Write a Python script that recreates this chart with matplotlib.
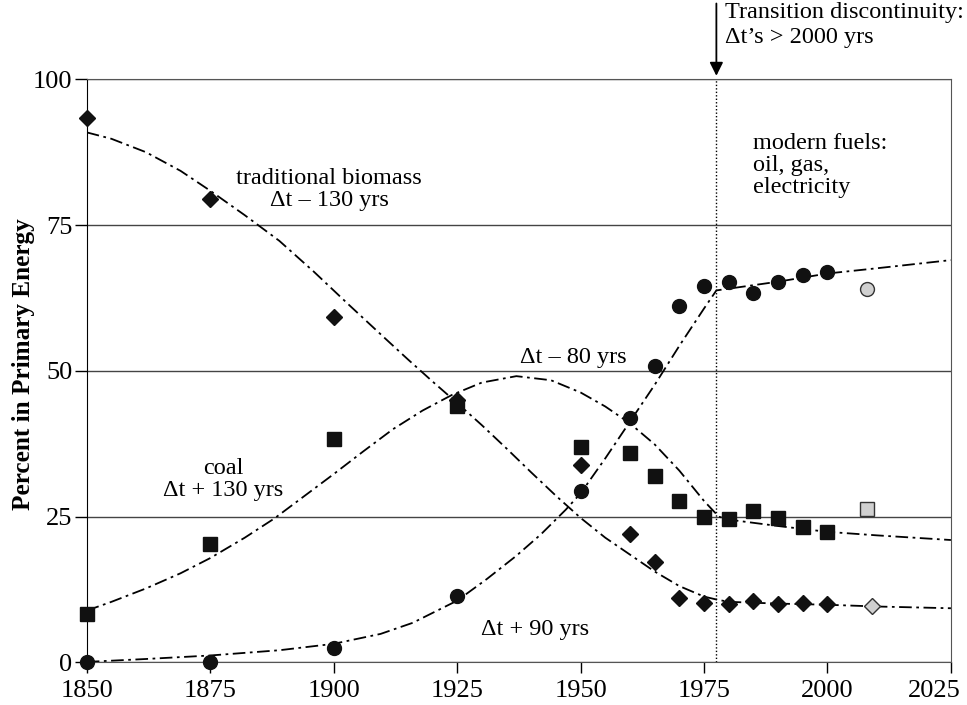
import matplotlib
matplotlib.use("Agg")
import matplotlib.pyplot as plt
import matplotlib.transforms as mtransforms

plt.rcParams['font.family'] = ['Liberation Serif', 'DejaVu Serif']

# observed shares (percent of primary energy)
years = [1850, 1875, 1900, 1925, 1950, 1960, 1965, 1970, 1975, 1980, 1985, 1990, 1995, 2000]
biomass = [93.4, 79.5, 59.3, 45.0, 33.8, 22.0, 17.2, 11.0, 10.2, 10.1, 10.6, 10.1, 10.2, 10.0]
coal = [8.4, 20.3, 38.3, 44.0, 37.0, 36.0, 32.0, 27.7, 25.0, 24.6, 26.0, 24.7, 23.2, 22.4]
modern = [0.0, 0.0, 2.4, 11.4, 29.4, 41.9, 50.8, 61.1, 64.6, 65.3, 63.3, 65.3, 66.4, 66.9]

# latest values (grey markers)
gray_years = [2008, 2008, 2009]
gray_vals = [64.1, 26.4, 9.7]   # modern, coal, biomass

# fitted curves
biomass_fit_yrs = [1850, 1855, 1862, 1869, 1875, 1882, 1889, 1896, 1903, 1910, 1915, 1920,
                   1925, 1930, 1935, 1940, 1945, 1950, 1955, 1960, 1965, 1970, 1975, 1977.5,
                   1980, 1990, 2000, 2010, 2025]
biomass_fit = [90.9, 89.8, 87.5, 84.3, 80.9, 76.7, 72.3, 67.0, 61.4, 55.9, 52.0, 48.2,
               44.5, 40.7, 36.7, 32.6, 28.6, 24.8, 21.4, 18.5, 15.6, 13.1, 11.3, 10.8,
               10.4, 10.1, 9.9, 9.6, 9.3]
coal_fit_yrs = [1850, 1855, 1862, 1869, 1875, 1882, 1888, 1894, 1900, 1906, 1912, 1918,
                1924, 1930, 1937, 1944, 1950, 1955, 1960, 1965, 1970, 1975, 1978,
                1980, 1990, 2000, 2010, 2025]
coal_fit = [8.9, 10.4, 12.7, 15.3, 17.9, 21.4, 24.7, 28.5, 32.3, 36.2, 40.0, 43.2,
            45.9, 48.0, 49.1, 48.4, 46.3, 43.9, 41.0, 37.4, 32.9, 27.7, 25.0,
            24.5, 23.4, 22.4, 21.8, 21.0]
modern_fit_yrs = [1850, 1862, 1875, 1889, 1900, 1909.5, 1916, 1925, 1931, 1937, 1942,
                  1947, 1950, 1955, 1960, 1965, 1970, 1975, 1977.5, 1990, 2000, 2010, 2025]
modern_fit = [0.1, 0.6, 1.2, 2.1, 3.2, 4.9, 6.8, 10.6, 14.3, 18.3, 22.0,
              26.2, 29.0, 35.0, 41.3, 47.6, 54.3, 60.7, 63.8, 65.3, 66.7, 67.6, 69.0]

transition_year = 1977.5

fig = plt.figure(figsize=(9.67, 7.05), dpi=100)
ax = fig.add_axes([0.0897, 0.0603, 0.8937, 0.8272])

dashdot = (0, (7, 2.5, 1.5, 2.5))
ax.plot(biomass_fit_yrs, biomass_fit, color='black', lw=1.3, ls=dashdot)
ax.plot(coal_fit_yrs, coal_fit, color='black', lw=1.3, ls=dashdot)
ax.plot(modern_fit_yrs, modern_fit, color='black', lw=1.3, ls=dashdot)

ax.plot(years, coal, 's', color='#111111', ms=9.5, clip_on=False, zorder=3)
ax.plot(years, biomass, 'D', color='#111111', ms=8.5, clip_on=False, zorder=4)
ax.plot(years, modern, 'o', color='#111111', ms=10, clip_on=False, zorder=3)

ax.plot(gray_years[0], gray_vals[0], 'o', ms=10, mfc='#d0d0d0', mec='#333333', mew=1)
ax.plot(gray_years[1], gray_vals[1], 's', ms=9.5, mfc='#d0d0d0', mec='#333333', mew=1)
ax.plot(gray_years[2], gray_vals[2], 'D', ms=8.5, mfc='#d0d0d0', mec='#333333', mew=1)

ax.axvline(transition_year, color='black', lw=1, ls=(0, (1, 1.5)))

ax.set_xlim(1850, 2025)
ax.set_ylim(0, 100)
ax.set_xticks([1850, 1875, 1900, 1925, 1950, 1975, 2000, 2025])
ax.set_yticks([0, 25, 50, 75, 100])
ax.yaxis.grid(True, color='#444444', lw=1)
ax.tick_params(axis='x', direction='out', length=8, width=1, pad=4.5, labelsize=19)
ax.tick_params(axis='y', direction='out', length=9, width=1, pad=1.5, labelsize=19)
for s in ['top', 'right', 'bottom']:
    ax.spines[s].set_color('#555555')
ax.spines['left'].set_color('black')

# last x label sits left of its tick, as in the original
last = ax.get_xticklabels()[-1]
last.set_transform(last.get_transform() +
                   mtransforms.ScaledTranslation(-17 / 100, 0, fig.dpi_scale_trans))

ax.set_ylabel('Percent in Primary Energy', fontsize=18.2, fontweight='bold')
ax.yaxis.set_label_coords(-0.06, 0.512)

fs = 17.5
ax.text(1899.1, 81.1, 'traditional biomass\n\u0394t \u2013 130 yrs', ha='center', va='center',
        fontsize=fs, linespacing=1.03)
ax.text(1877.7, 31.4, 'coal\n\u0394t + 130 yrs', ha='center', va='center',
        fontsize=fs, linespacing=1.03)
ax.text(1948.5, 52.3, '\u0394t \u2013 80 yrs', ha='center', va='center', fontsize=fs)
ax.text(1940.7, 5.6, '\u0394t + 90 yrs', ha='center', va='center', fontsize=fs)
ax.text(1985.0, 85.2, 'modern fuels:\noil, gas,\nelectricity', ha='left', va='center',
        fontsize=fs, linespacing=1.05)

ax.annotate('', xy=(transition_year, 100.6), xytext=(transition_year, 113.0),
            arrowprops=dict(arrowstyle='-|>', color='black', lw=1.3, mutation_scale=20,
                            shrinkA=0, shrinkB=0), annotation_clip=False)
ax.text(1979.2, 113.2, 'Transition discontinuity:\n\u0394t\u2019s > 2000 yrs', ha='left',
        va='top', fontsize=fs, linespacing=1.25)

fig.savefig('out.png', dpi=100)
